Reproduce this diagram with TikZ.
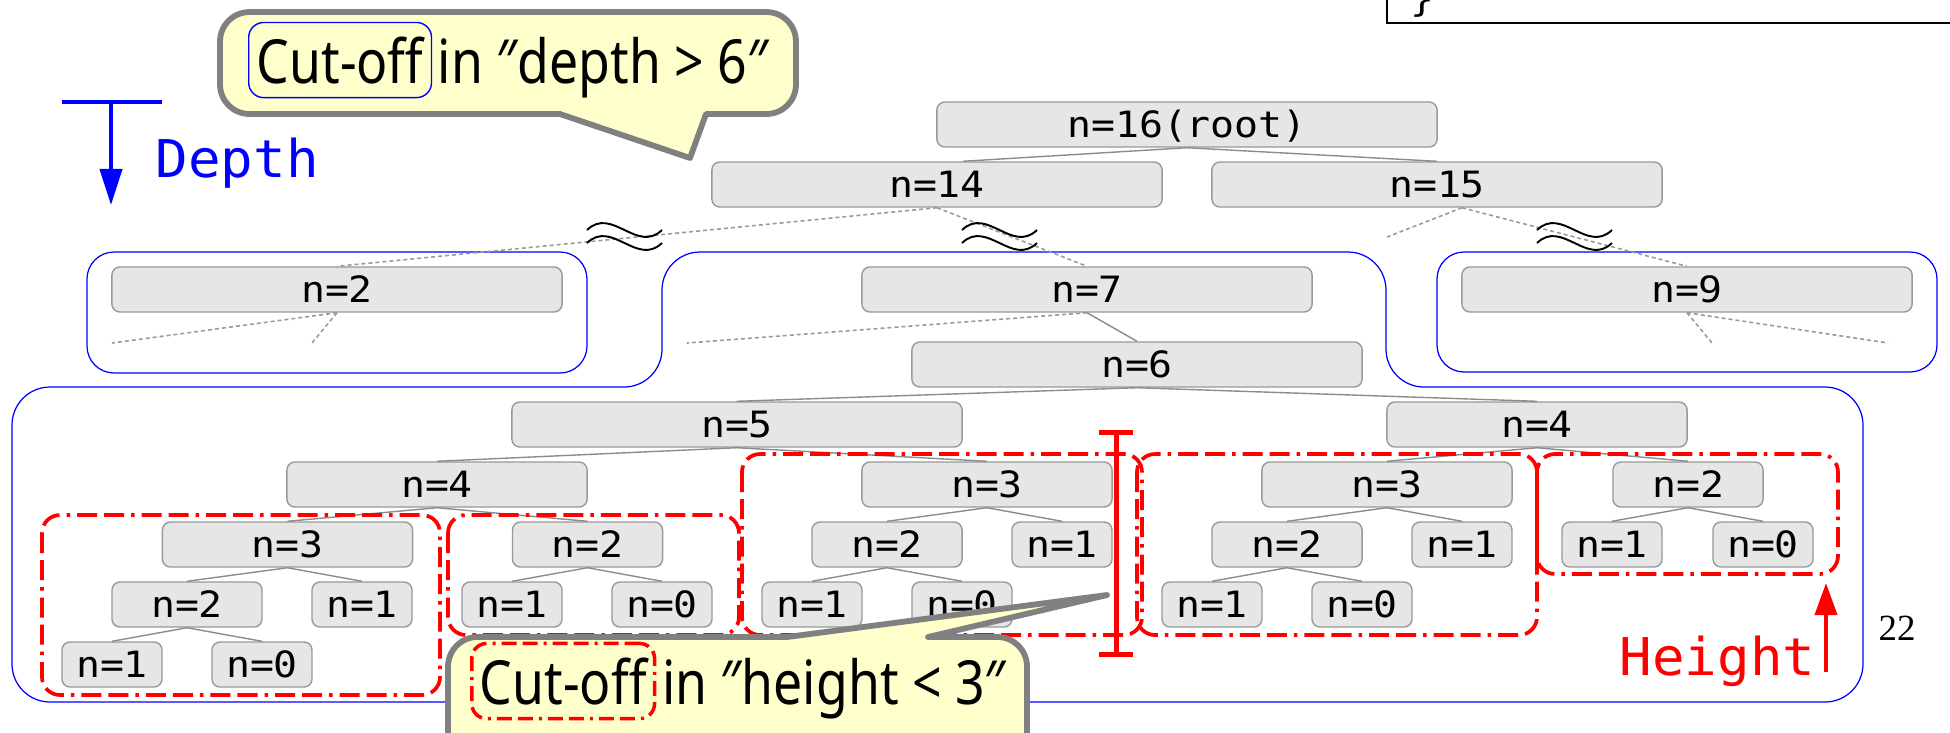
\documentclass[tikz,border=0pt]{standalone}
\usepackage{fontspec}
\usetikzlibrary{arrows.meta}
\newfontfamily\nodefont[FakeStretch=1.1]{DejaVu Sans Mono}
\newfontfamily\labelfont[FakeStretch=1.04]{DejaVu Sans Mono}
\newfontfamily\calloutfont[FakeStretch=0.85]{Noto Sans}
\newfontfamily\pagefont{Liberation Serif}
\definecolor{boxfill}{HTML}{E6E6E6}
\definecolor{boxline}{HTML}{999999}
\definecolor{edgeline}{HTML}{8C8C8C}
\definecolor{dashline}{HTML}{9A9A9A}
\definecolor{calloutfill}{HTML}{FFFFCC}
\definecolor{calloutline}{HTML}{808080}
\begin{document}
\begin{tikzpicture}[x=0.01cm, y=-0.01cm,
  monotext/.style={font=\nodefont\fontsize{10.3}{12}\selectfont},
  bigmono/.style={font=\labelfont\fontsize{14.8}{17}\selectfont},
  tnode/.style={draw=boxline, fill=boxfill, line width=0.4pt, rounded corners=0.08cm,
    minimum height=0.45cm, inner sep=0pt, text height=7.5pt, text depth=0pt, monotext},
  w100/.style={tnode, minimum width=1cm},
  w150/.style={tnode, minimum width=1.5cm},
  w250/.style={tnode, minimum width=2.5cm},
  w300/.style={tnode, minimum width=3cm},
  w450/.style={tnode, minimum width=4.5cm},
  w500/.style={tnode, minimum width=5cm},
  edge/.style={draw=edgeline, line width=0.4pt},
  cutedge/.style={draw=dashline, line width=0.45pt, dash pattern=on 0.04cm off 0.03cm},
  squiggle/.style={draw=black, line width=0.55pt},
  depthgroup/.style={draw=blue, line width=0.35pt},
  heightgroup/.style={draw=red, line width=0.037cm, rounded corners=0.18cm,
    dash pattern=on 0.2cm off 0.07cm on 0.2cm off 0.07cm on 0.035cm off 0.07cm},
  callout/.style={fill=calloutfill, draw=calloutline, line width=0.058cm, line join=round},
  callouttext/.style={font=\calloutfont\fontsize{17.3}{21}\selectfont, inner sep=0pt, anchor=base west},
  keyword/.style={callouttext, inner xsep=0.08cm, inner ysep=0.14cm, rounded corners=0.15cm},
  indicator/.style={line width=0.04cm},
]
\useasboundingbox (0,0) rectangle (1950,732);
\clip (0,0) rectangle (1950,732);
\fill[white] (0,0) rectangle (1950,732);

% code listing frame in the upper right corner
\draw[line width=0.6pt] (1387,-10) -- (1387,23) -- (1960,23);
\node[monotext, anchor=base west, inner sep=0pt] (brace) at (1410,11) {\}};

% subtrees grouped by depth
\draw[depthgroup, rounded corners=0.27cm] (87,252) rectangle (587,373);
\draw[depthgroup, rounded corners=0.27cm] (1437,252) rectangle (1937,372);
\draw[depthgroup, rounded corners=0.38cm]
  (12,550) -- (12,387) -- (662,387) -- (662,252) -- (1386,252) -- (1386,387)
  -- (1863,387) -- (1863,702) -- (12,702) -- cycle;

% tree nodes
\node[w500] (root) at (1187,124.5) {n=16(root)};
\node[w450] (n14) at (937,184.5) {n=14};
\node[w450] (n15) at (1437,184.5) {n=15};
\node[w450] (a2) at (337,289.5) {n=2};
\node[w450] (n7) at (1087,289.5) {n=7};
\node[w450] (n9) at (1687,289.5) {n=9};
\node[w450] (n6) at (1137,364.5) {n=6};
\node[w450] (n5) at (737,424.5) {n=5};
\node[w300] (n4r) at (1537,424.5) {n=4};
\node[w300] (n4l) at (437,484.5) {n=4};
\node[w250] (n3m) at (987,484.5) {n=3};
\node[w250] (n3r) at (1387,484.5) {n=3};
\node[w150] (n2rr) at (1688,484.5) {n=2};
\node[w250] (n3l) at (287.5,544.5) {n=3};
\node[w150] (n2a) at (587.5,544.5) {n=2};
\node[w150] (n2m) at (887,544.5) {n=2};
\node[w100] (n1m) at (1062,544.5) {n=1};
\node[w150] (n2r) at (1287,544.5) {n=2};
\node[w100] (n1r) at (1462,544.5) {n=1};
\node[w100] (n1rr) at (1612,544.5) {n=1};
\node[w100] (n0rr) at (1763,544.5) {n=0};
\node[w150] (n2l) at (187,604.5) {n=2};
\node[w100] (n1l) at (362,604.5) {n=1};
\node[w100] (n1a) at (512,604.5) {n=1};
\node[w100] (n0a) at (662,604.5) {n=0};
\node[w100] (n1mb) at (812,604.5) {n=1};
\node[w100] (n0mb) at (962,604.5) {n=0};
\node[w100] (n1rb) at (1212,604.5) {n=1};
\node[w100] (n0rb) at (1362,604.5) {n=0};
\node[w100] (n1ll) at (112,664.5) {n=1};
\node[w100] (n0ll) at (262,664.5) {n=0};

% free ends of the elided branches
\coordinate (s15) at (1387,237);
\coordinate (s2a) at (112,343);
\coordinate (s2b) at (312,343);
\coordinate (s7) at (687,343);
\coordinate (s9a) at (1712,343);
\coordinate (s9b) at (1888,343);

% solid edges
\draw[edge] (root.south) -- ([xshift=0.26cm]n14.north);
\draw[edge] (root.south) -- (n15.north);
\foreach \p/\c in {n7/n6, n6/n5, n6/n4r, n5/n4l, n5/n3m, n4l/n3l, n4l/n2a,
  n3l/n2l, n3l/n1l, n2l/n1ll, n2l/n0ll, n2a/n1a, n2a/n0a, n3m/n2m, n3m/n1m,
  n2m/n1mb, n2m/n0mb, n4r/n3r, n4r/n2rr, n3r/n2r, n3r/n1r, n2r/n1rb, n2r/n0rb,
  n2rr/n1rr, n2rr/n0rr}
  \draw[edge] (\p.south) -- (\c.north);

% dashed edges (elided levels)
\draw[cutedge] (n14.south) -- (a2.north);
\draw[cutedge] (n14.south) -- (n7.north);
\draw[cutedge] ([xshift=0.25cm]n15.south) -- (s15);
\draw[cutedge] ([xshift=0.25cm]n15.south) -- (n9.north);
\draw[cutedge] (a2.south) -- (s2a);
\draw[cutedge] (a2.south) -- (s2b);
\draw[cutedge] (n7.south) -- (s7);
\draw[cutedge] (n9.south) -- (s9a);
\draw[cutedge] (n9.south) -- (s9b);

% "approximately" marks on the elided edges
\foreach \sx in {587, 962, 1537} {
  \draw[squiggle] (\sx,230) .. controls (\sx+25,206) and (\sx+50,254) .. (\sx+75,230);
  \draw[squiggle] (\sx,243) .. controls (\sx+25,219) and (\sx+50,267) .. (\sx+75,243);
}

% subtrees cut off by height
\draw[heightgroup] (42,515) rectangle (440,695);
\draw[heightgroup] (448,515) rectangle (739,635);
\draw[heightgroup] (742,454) rectangle (1142,635);
\draw[heightgroup] (1137,454) rectangle (1537,635);
\draw[heightgroup] (1537,454) rectangle (1838,574);

% height range bar
\coordinate (bartop) at (1116,432);
\coordinate (barbot) at (1116,654);
\draw[red, line width=0.05cm] (bartop) -- (barbot)
  ([xshift=-0.17cm]bartop) -- ([xshift=0.17cm]bartop)
  ([xshift=-0.17cm]barbot) -- ([xshift=0.17cm]barbot);

% depth direction
\coordinate (dleft) at (62,102);
\coordinate (dright) at (162,102);
\coordinate (dtop) at (111,102);
\coordinate (dbot) at (111,205);
\draw[blue, indicator] (dleft) -- (dright);
\draw[blue, indicator, -{Triangle[width=0.22cm, length=0.36cm]}] (dtop) -- (dbot);
\node[bigmono, text=blue, anchor=base west, inner sep=0pt] (depthlbl) at (155,177) {Depth};

% height direction
\coordinate (hbot) at (1826,672);
\coordinate (htop) at (1826,583);
\draw[red, indicator, -{Triangle[width=0.22cm, length=0.32cm]}] (hbot) -- (htop);
\node[bigmono, text=red, anchor=base west, inner sep=0pt] (heightlbl) at (1619,675) {Height};

% page number
\node[font=\pagefont\fontsize{10.5}{12}\selectfont, anchor=base, inner sep=0pt] (pagenum) at (1897,640) {22};

% callout: depth cut-off
\filldraw[callout]
  (220,42) .. controls (220,25) and (233,12) .. (250,12)
  -- (766,12) .. controls (783,12) and (796,25) .. (796,42)
  -- (796,84) .. controls (796,101) and (783,114) .. (766,114)
  -- (706,114) -- (690,158) -- (560,114)
  -- (250,114) .. controls (233,114) and (220,101) .. (220,84) -- cycle;
\node[keyword, draw=blue, line width=0.4pt] (cut1) at (248,83) {Cut-off};
\node[callouttext, xshift=0.05cm] (txt1) at (cut1.base east) {in ″depth > 6″};

% callout: height cut-off
\filldraw[callout]
  (448,667) .. controls (448,650) and (461,637) .. (478,637)
  -- (787,637) -- (1107,595) -- (928,637)
  -- (997,637) .. controls (1014,637) and (1027,650) .. (1027,667)
  -- (1027,800) -- (448,800) -- cycle;
\node[keyword, draw=red, line width=0.035cm,
  dash pattern=on 0.15cm off 0.06cm on 0.15cm off 0.06cm on 0.03cm off 0.06cm] (cut2) at (470,704) {Cut-off};
\node[callouttext, xshift=0.05cm] (txt2) at (cut2.base east) {in ″height < 3″};
\end{tikzpicture}
\end{document}
